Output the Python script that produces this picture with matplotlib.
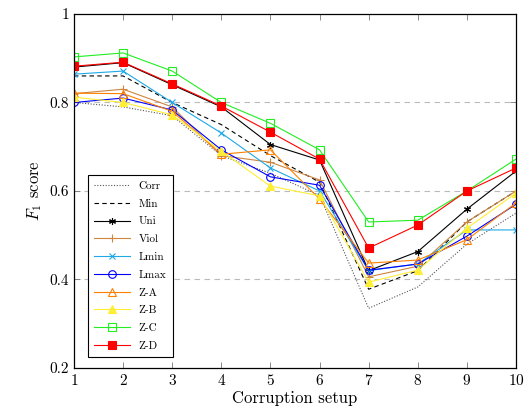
import matplotlib
matplotlib.use("Agg")
import matplotlib.pyplot as plt

plt.rcParams['font.family'] = ['cmr10', 'DejaVu Serif']
plt.rcParams['mathtext.fontset'] = 'cm'
plt.rcParams['axes.formatter.use_mathtext'] = True

setups = [1, 2, 3, 4, 5, 6, 7, 8, 9, 10]
corr = [0.80, 0.79, 0.77, 0.68, 0.64, 0.59, 0.335, 0.383, 0.48, 0.55]
minv = [0.86, 0.86, 0.80, 0.75, 0.68, 0.62, 0.378, 0.42, 0.53, 0.60]
uni = [0.88, 0.89, 0.84, 0.79, 0.705, 0.67, 0.42, 0.463, 0.559, 0.645]
viol = [0.82, 0.83, 0.79, 0.68, 0.665, 0.625, 0.406, 0.43, 0.53, 0.60]
lmin = [0.864, 0.871, 0.80, 0.731, 0.652, 0.60, 0.42, 0.435, 0.512, 0.512]
lmax = [0.80, 0.81, 0.783, 0.693, 0.632, 0.613, 0.421, 0.435, 0.498, 0.57]
za = [0.821, 0.82, 0.78, 0.683, 0.693, 0.582, 0.437, 0.444, 0.49, 0.573]
zb = [0.812, 0.80, 0.772, 0.69, 0.611, 0.589, 0.394, 0.421, 0.516, 0.595]
zc = [0.903, 0.912, 0.871, 0.80, 0.753, 0.693, 0.53, 0.534, 0.60, 0.672]
zd = [0.882, 0.891, 0.842, 0.792, 0.733, 0.672, 0.471, 0.523, 0.60, 0.652]

fig = plt.figure(figsize=(5.27, 4.2), dpi=100)
ax = fig.add_axes([0.1404, 0.1238, 0.8387, 0.8429])

lw = 0.8
ax.plot(setups, corr, color='#555555', ls=(0, (1, 1.5)), lw=lw, label='Corr')
ax.plot(setups, minv, color='black', ls=(0, (4, 3)), lw=lw, label='Min')
ax.plot(setups, uni, color='black', lw=lw, marker=(6, 2, 0), ms=5, mew=0.8, label='Uni')
ax.plot(setups, viol, color='#CD853F', lw=lw, marker='+', ms=6, mew=0.8, label='Viol')
ax.plot(setups, lmin, color='#1EA8E8', lw=lw, marker='x', ms=4.5, mew=0.8, label='Lmin')
ax.plot(setups, lmax, color='#0000FF', lw=lw, marker='o', ms=5.5, mfc='none', mew=0.8, label='Lmax')
ax.plot(setups, za, color='#FF8000', lw=lw, marker='^', ms=5.5, mfc='none', mew=0.8, label='Z-A')
ax.plot(setups, zb, color='#FFEE33', lw=lw, marker='^', ms=5.5, mew=0.8, label='Z-B')
ax.plot(setups, zc, color='#22EE22', lw=lw, marker='s', ms=6, mfc='none', mew=0.8, label='Z-C')
ax.plot(setups, zd, color='#FF0000', lw=lw, marker='s', ms=6, mew=0.8, label='Z-D')

ax.set_xlim(1, 10)
ax.set_ylim(0.2, 1.0)
ax.set_xticks(setups)
ax.set_yticks([0.2, 0.4, 0.6, 0.8, 1.0])
ax.set_yticklabels(['0.2', '0.4', '0.6', '0.8', '1'])
for y in [0.4, 0.6, 0.8]:
    ax.axhline(y, color='#BBBBBB', ls=(0, (5, 4)), lw=0.8, zorder=0)
ax.tick_params(direction='in', top=True, right=True, length=4, width=0.6,
               labelsize=11, color='#777777')
for s in ax.spines.values():
    s.set_linewidth(0.9)
ax.set_xlabel('Corruption setup', fontsize=12, labelpad=2)
ax.set_ylabel(r'$F_1$ score', fontsize=12, labelpad=4)

leg = ax.legend(loc='lower left', bbox_to_anchor=(0.032, 0.031), borderaxespad=0,
                fontsize=8, fancybox=False, edgecolor='black', framealpha=1,
                handlelength=3.2, labelspacing=0.72, borderpad=0.55, markerfirst=True)
leg.get_frame().set_linewidth(0.8)

fig.savefig('out.png', dpi=100)
